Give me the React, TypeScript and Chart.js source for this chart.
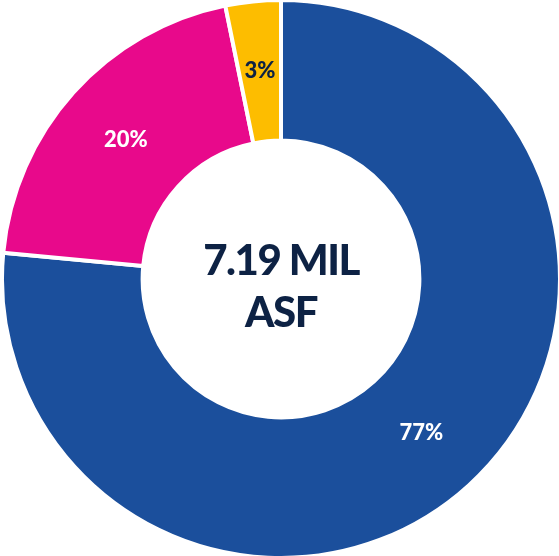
import React, { useEffect, useRef } from "react";
import { Chart, registerables } from "chart.js";

Chart.register(...registerables);

const categories = ["Segment A", "Segment B", "Segment C"];
const values = [76.5, 20.3, 3.2];
const valueLabels = ["77%", "20%", "3%"];
const colors = ["#1b4f9c", "#e8098b", "#fdbd00"];
const labelColors = ["#ffffff", "#ffffff", "#0d2244"];
const centerLines = ["7.19 MIL", "ASF"];

const FONT = "Lato, 'DejaVu Sans', sans-serif";
const NAVY = "#0d2244";

const sliceLabels = {
  id: "sliceLabels",
  afterDatasetsDraw(chart: any) {
    const ctx = chart.ctx;
    const meta = chart.getDatasetMeta(0);
    ctx.save();
    ctx.textAlign = "center";
    ctx.textBaseline = "middle";
    ctx.font = `900 22px ${FONT}`;
    meta.data.forEach((arc: any, i: number) => {
      const p = arc.getCenterPoint();
      ctx.fillStyle = labelColors[i];
      ctx.fillText(valueLabels[i], p.x, p.y);
    });
    const a = meta.data[0];
    const cx = a.x;
    const cy = a.y;
    ctx.fillStyle = NAVY;
    ctx.font = `900 42px ${FONT}`;
    (ctx as any).letterSpacing = "-1.5px";
    ctx.fillText(centerLines[0], cx, cy - 18);
    ctx.fillText(centerLines[1], cx, cy + 34);
    ctx.restore();
  },
};

export default function App() {
  const ref = useRef<HTMLCanvasElement>(null);
  useEffect(() => {
    document.body.style.margin = "0";
    document.body.style.overflow = "hidden";
    const chart = new Chart(ref.current!, {
      type: "doughnut",
      data: {
        labels: categories,
        datasets: [
          {
            data: values,
            backgroundColor: colors,
            borderColor: "#ffffff",
            borderWidth: 4,
            hoverOffset: 0,
          },
        ],
      },
      options: {
        animation: false,
        responsive: false,
        maintainAspectRatio: false,
        cutout: "49.6%",
        layout: { padding: 0 },
        plugins: {
          legend: { display: false },
          tooltip: { enabled: false },
        },
      },
      plugins: [sliceLabels],
    });
    return () => chart.destroy();
  }, []);
  return (
    <div style={{ position: "fixed", left: -0.5, top: -2.5, width: 562, height: 562 }}>
      <canvas ref={ref} width={562} height={562} style={{ width: 562, height: 562 }} />
    </div>
  );
}
